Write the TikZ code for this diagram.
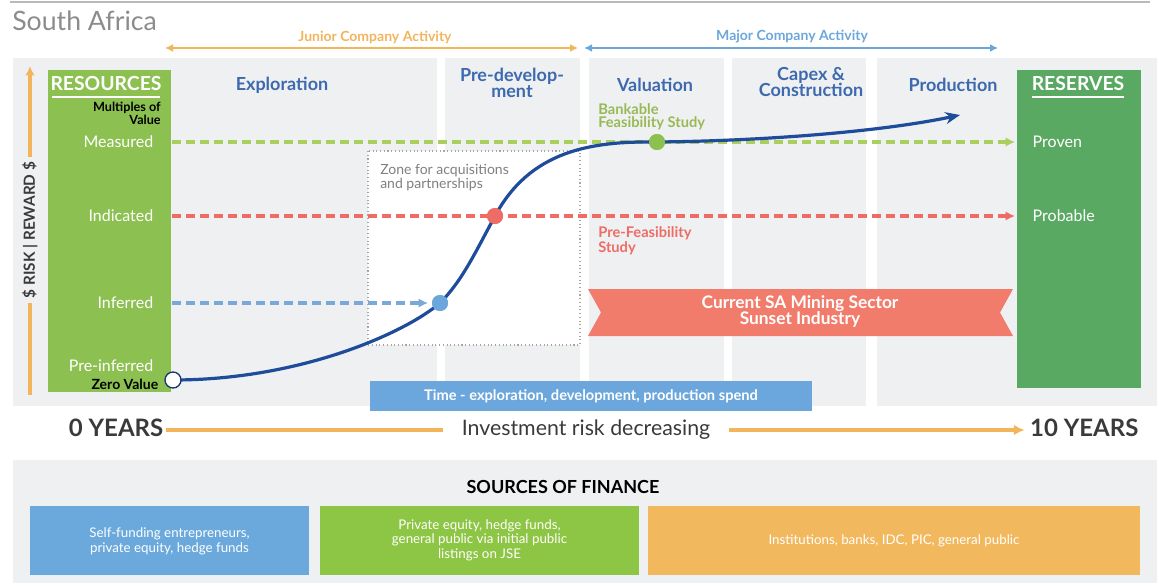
\documentclass[tikz,border=0pt]{standalone}
\usepackage{fontspec}
\setmainfont{Lato}
\usetikzlibrary{arrows.meta}

\definecolor{panel}{HTML}{EFF0F2}
\definecolor{resgreen}{HTML}{8CC152}
\definecolor{rsvgreen}{HTML}{5AA962}
\definecolor{hdrblue}{HTML}{3D6AAE}
\definecolor{curveblue}{HTML}{1E4C9A}
\definecolor{orng}{HTML}{F2B55C}
\definecolor{skyblue}{HTML}{6BA7DC}
\definecolor{dashgreen}{HTML}{A9CF5E}
\definecolor{dashred}{HTML}{EE6C66}
\definecolor{dashblue}{HTML}{7AA9D8}
\definecolor{ribbon}{HTML}{F27C6C}
\definecolor{finblue}{HTML}{6BA9DD}
\definecolor{fingreen}{HTML}{8DC544}
\definecolor{finorange}{HTML}{F2B85E}
\definecolor{titlegray}{HTML}{8C8C8C}
\definecolor{darktxt}{HTML}{3A3A3A}

\tikzset{
  fs/.style={font=\fontsize{#1}{#1}\selectfont},
  hdr/.style={text=hdrblue, align=center, font=\fontsize{13.5}{12.5}\selectfont\bfseries},
  lvl/.style={text=white, anchor=east, font=\fontsize{12}{12}\selectfont},
  rlvl/.style={text=white, anchor=west, font=\fontsize{12}{12}\selectfont},
  column/.style={fill=panel, draw=none},
  dashline/.style={line width=2.4pt, dash pattern=on 6.5pt off 4pt, -{Latex[length=7pt,width=7pt]}},
  dot/.style={circle, minimum size=12pt, inner sep=0pt},
  finbox/.style={text=white, align=center, inner sep=0pt, font=\fontsize{10}{11}\selectfont},
  span/.style={line width=2.2pt, {Latex[length=6pt,width=6pt]}-{Latex[length=6pt,width=6pt]}},
}

\begin{document}
\begin{tikzpicture}[x=0.75pt,y=-0.75pt]
\useasboundingbox (0,0) rectangle (1159,588);

% top rule and title
\draw[line width=1.5pt, titlegray!60] (10,2) -- (1150,2);
\node[anchor=west, text=titlegray, fs=20, inner sep=0pt] (title) at (12,21) {South Africa};

% activity spans
\coordinate (jl) at (165,48); \coordinate (jr) at (578,48);
\coordinate (ml) at (584,48); \coordinate (mr) at (998,48);
\draw[span, orng] (jl) -- (jr);
\draw[span, skyblue] (ml) -- (mr);
\node[text=orng, font=\fontsize{10.5}{10}\selectfont\bfseries] (junior) at (375,37) {Junior Company Activity};
\node[text=skyblue, font=\fontsize{10.5}{10}\selectfont\bfseries] (major) at (792,37) {Major Company Activity};

% stage columns
\fill[column] (13,58) rectangle (437,406);
\fill[column] (445,58) rectangle (580,406);
\fill[column] (589,58) rectangle (724,406);
\fill[column] (732,58) rectangle (866,406);
\fill[column] (877,58) rectangle (1157,406);

% resource / reserve boxes
\fill[resgreen] (48,70) rectangle (171,392);
\fill[rsvgreen] (1017,70) rectangle (1141,388);
\node[text=white, font=\fontsize{14.5}{14}\selectfont\bfseries] (resources) at (106,84) {RESOURCES};
\draw[white, line width=1.5pt] (52,97) -- (160,97);
\node[text=white, font=\fontsize{14.5}{14}\selectfont\bfseries] (reserves) at (1078,84) {RESERVES};
\draw[white, line width=1.5pt] (1032,97) -- (1124,97);
\node[anchor=east, align=right, text=black, font=\fontsize{9.5}{8}\selectfont\bfseries, inner sep=0pt] (multi) at (161,113) {Multiples of\\Value};

% vertical risk axis
\draw[orng, line width=2.6pt, -{Latex[length=7pt,width=7pt]}] (30,395) -- (30,66);
\node[rotate=90, fill=panel, inner xsep=4pt, inner ysep=1pt, text=darktxt, font=\fontsize{11.5}{11}\selectfont\bfseries] (risk) at (30,230) {\$ RISK | REWARD \$};

% stage headings
\node[hdr] (expl) at (282,85) {Exploration};
\node[hdr] (predev) at (512,83) {Pre-develop-\\ment};
\node[hdr] (valu) at (655,85) {Valuation};
\node[hdr] (capex) at (811,82) {Capex \&\\Construction};
\node[hdr] (prod) at (953,85) {Production};

% acquisition zone
\draw[gray!70, dotted, line width=0.8pt, fill=white] (368,151) rectangle (580,345);
\node[anchor=north west, align=left, text=gray, font=\fontsize{10.5}{9}\selectfont, inner sep=0pt] (zone) at (380,164) {Zone for acquisitions\\and partnerships};

% resource levels
\node[lvl] (measured) at (158,142) {Measured};
\node[lvl] (indicated) at (158,216) {Indicated};
\node[lvl] (inferred) at (158,303) {Inferred};
\node[lvl] (preinf) at (158,366) {Pre-inferred};
\node[anchor=east, text=black, font=\fontsize{10.5}{10}\selectfont\bfseries] (zero) at (163,384) {Zero Value};
\node[rlvl] (proven) at (1028,142) {Proven};
\node[rlvl] (probable) at (1028,216) {Probable};

% study labels
\node[anchor=west, align=left, text=dashgreen!90!black, font=\fontsize{11}{10}\selectfont\bfseries, inner sep=0pt] (bfs) at (598,117) {Bankable\\Feasibility Study};
\node[anchor=west, align=left, text=dashred, font=\fontsize{11}{10}\selectfont\bfseries, inner sep=0pt] (pfs) at (598,241) {Pre-Feasibility\\Study};

% milestone points
\coordinate (z0) at (173,380);
\node[dot, fill=skyblue] (dI) at (440,303) {};
\node[dot, fill=dashred] (dP) at (495,216) {};
\node[dot, fill=resgreen] (dB) at (657,142) {};
\coordinate (cend) at (960,115);
\coordinate (mEnd) at (1015,142);
\coordinate (iEnd) at (1015,216);
\coordinate (fEnd) at (428,303);

% level lines
\draw[dashline, dashgreen] (172,142) -- (mEnd);
\draw[dashline, dashred] (172,216) -- (iEnd);
\draw[dashline, dashblue] (172,303) -- (fEnd);

% ribbon
\fill[ribbon] (588,289) -- (1013,289) -- (1000,312.5) -- (1013,336) -- (588,336) -- (601,312.5) -- cycle;
\node[text=white, align=center, font=\fontsize{13}{12}\selectfont\bfseries] (sunset) at (800,312) {Current SA Mining Sector\\[-1pt]Sunset Industry};

% value curve
\draw[curveblue, line width=2.4pt, -{Stealth[length=11pt,width=9pt]}]
  (z0) .. controls (300,380) and (405,333) .. (dI.center)
       .. controls (462,281) and (475,253) .. (dP.center)
       .. controls (530,151) and (590,141) .. (dB.center)
       .. controls (760,141) and (880,132) .. (cend);
\node[dot, fill=skyblue] at (dI) {};
\node[dot, fill=dashred] at (dP) {};
\node[dot, fill=resgreen] at (dB) {};
\node[circle, draw=curveblue!70!black, fill=white, line width=1pt, minimum size=12pt, inner sep=0pt] (zc) at (z0) {};

% time bar
\fill[skyblue] (370,381) rectangle (812,411);
\node[text=white, font=\fontsize{11}{11}\selectfont\bfseries] (time) at (591,396) {Time - exploration, development, production spend};

% investment risk axis
\node[anchor=west, text=darktxt, font=\fontsize{18}{18}\selectfont\bfseries, inner sep=2pt] (y0) at (66,428) {0 YEARS};
\node[text=darktxt, font=\fontsize{16}{16}\selectfont, inner xsep=14pt] (inv) at (586,430) {Investment risk decreasing};
\node[anchor=east, text=darktxt, font=\fontsize{18}{18}\selectfont\bfseries, inner sep=4pt] (y10) at (1144,428) {10 YEARS};
\draw[orng, line width=3pt] (y0.east) ++(0,2) -- (inv.west |- 0,430);
\draw[orng, line width=3pt, -{Latex[length=8pt,width=8pt]}] (inv.east) -- (y10.west |- 0,430);

% sources of finance
\fill[panel] (13,460) rectangle (1157,583);
\node[text=black, font=\fontsize{13.5}{13}\selectfont\bfseries] (sof) at (563,487) {SOURCES OF FINANCE};
\fill[finblue] (30,506) rectangle (309,575);
\fill[fingreen] (320,506) rectangle (639,575);
\fill[finorange] (648,506) rectangle (1140,575);
\node[finbox] (f1) at (169.5,541) {Self-funding entrepreneurs,\\private equity, hedge funds};
\node[finbox] (f2) at (479.5,540) {Private equity, hedge funds,\\general public via initial public\\listings on JSE};
\node[finbox] (f3) at (894,541) {Institutions, banks, IDC, PIC, general public};

\end{tikzpicture}
\end{document}
